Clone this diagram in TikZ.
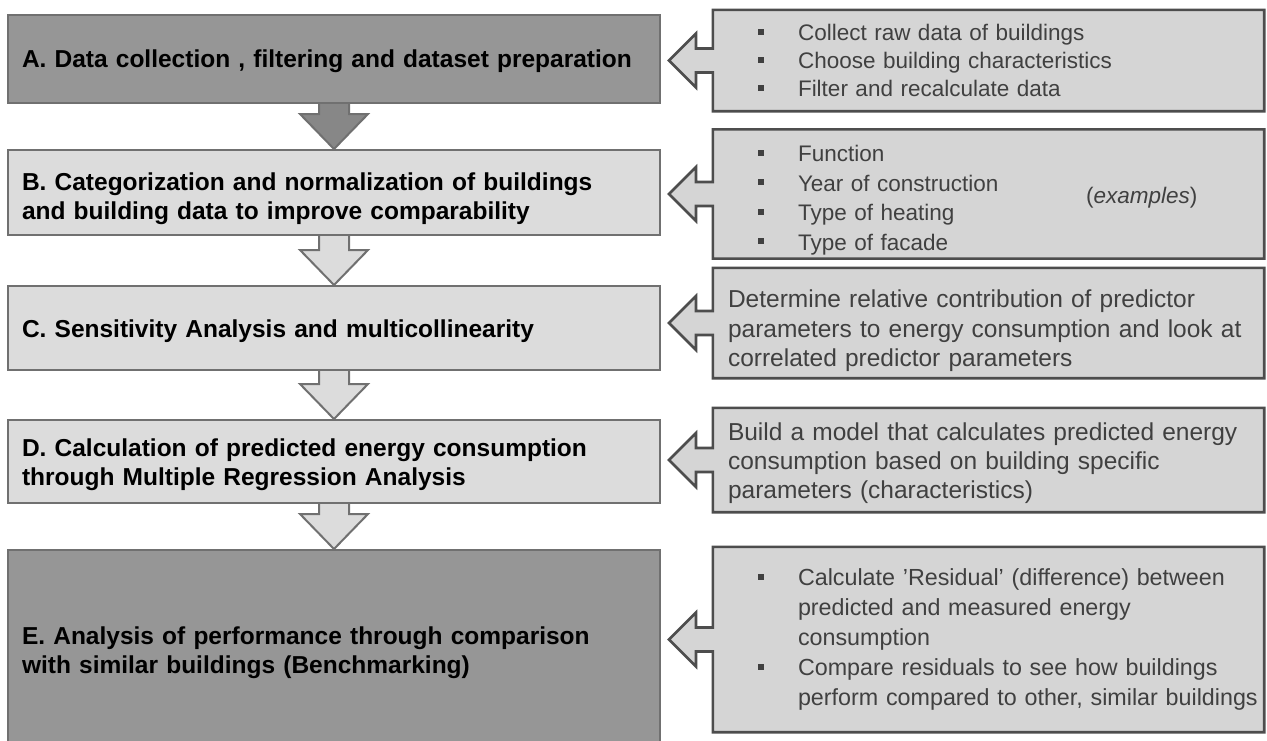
\documentclass[tikz,border=0pt]{standalone}
\usepackage{fontspec}
\setmainfont{Liberation Sans}
\usetikzlibrary{calc}
\pgfdeclarelayer{back}
\pgfsetlayers{back,main}

\definecolor{darkstage}{HTML}{969696}
\definecolor{lightstage}{HTML}{DCDCDC}
\definecolor{stageline}{HTML}{707070}
\definecolor{notefill}{HTML}{D5D5D5}
\definecolor{noteline}{HTML}{4D4D4D}
\definecolor{notetext}{HTML}{404040}

\tikzset{
  stage/.style={draw=stageline, line width=2pt, minimum width=652pt,
    inner xsep=14pt, text width=624pt, align=left, text=black,
    font=\fontsize{24.5}{29}\selectfont\bfseries},
  note/.style={minimum width=551pt, align=left, text=notetext},
  listnote/.style={inner xsep=0pt, text width=551pt},
  plainnote/.style={inner xsep=15pt, text width=521pt},
  notetxt/.style={text=notetext, inner sep=0pt},
  noteedge/.style={draw=noteline, fill=notefill, line width=2.6pt, line join=miter},
  darkarrow/.style={draw=stageline, fill=darkstage!90!black, line width=2pt},
  lightarrow/.style={draw=stageline, fill=lightstage, line width=2pt}
}

% bullet of the right hand lists
\newcommand{\notebullet}{\hspace*{45pt}\makebox[40pt][l]{\raisebox{6pt}{\rule{6pt}{6pt}}}}
\newcommand{\notecont}{\hspace*{85pt}}
% taller first line, pushes a text block down
\newcommand{\topstrut}[1]{\rule{0pt}{#1pt}}

% block arrow from one stage down to the next
\newcommand{\stepdown}[3][lightarrow]{%
  \draw[#1] ($(#2.south)+(-15,0)$) -- ($(#3.north)+(-15,-35)$)
    -- ($(#3.north)+(-34,-35)$) -- (#3.north) -- ($(#3.north)+(34,-35)$)
    -- ($(#3.north)+(15,-35)$) -- ($(#2.south)+(15,0)$);
}

% outline of a note with its arrow pointing at a stage
\newcommand{\callout}[2]{%
  \begin{pgfonlayer}{back}
  \draw[noteedge] (#1.north west) -- (#1.north east) -- (#1.south east)
    -- (#1.south west) -- ($(#1.west)+(0,12)$)
    -- ($(#1.west -| #2.east)+(35,12)$) -- ($(#1.west -| #2.east)+(35,27)$)
    -- ($(#1.west -| #2.east)+(8,0)$)
    -- ($(#1.west -| #2.east)+(35,-27)$) -- ($(#1.west -| #2.east)+(35,-12)$)
    -- ($(#1.west)+(0,-12)$) -- cycle;
  \end{pgfonlayer}
}

\begin{document}
\begin{tikzpicture}[x=1pt,y=-1pt]
    \clip (0,0) rectangle (1267,740);

    % Stages on the left
    \node[stage, fill=darkstage, minimum height=88pt] (a) at (334,59)
        {\topstrut{23}A. Data collection , filtering and dataset preparation};
    \node[stage, fill=lightstage, minimum height=85pt] (b) at (334,192.5)
        {\topstrut{30}B. Categorization and normalization of buildings\\and building data to improve comparability};
    \node[stage, fill=lightstage, minimum height=84pt] (c) at (334,328)
        {\topstrut{24}C. Sensitivity Analysis and multicollinearity};
    \node[stage, fill=lightstage, minimum height=83pt] (d) at (334,461.5)
        {\topstrut{24}D. Calculation of predicted energy consumption\\through Multiple Regression Analysis};
    \node[stage, fill=darkstage, minimum height=195pt] (e) at (334,647.5)
        {\topstrut{28}E. Analysis of performance through comparison\\with similar buildings (Benchmarking)};

    % Arrows between the stages
    \stepdown[darkarrow]{a}{b}
    \stepdown{b}{c}
    \stepdown{c}{d}
    \stepdown{d}{e}

    % Notes on the right
    \node[note, listnote, minimum height=101pt, font=\fontsize{22.5}{28}\selectfont] (na) at (988.5,60.5)
        {\notebullet Collect raw data of buildings\\
         \notebullet Choose building characteristics\\
         \notebullet Filter and recalculate data};
    \node[note, listnote, minimum height=128pt, font=\fontsize{22.5}{29.5}\selectfont] (nb) at (988.5,194)
        {\topstrut{29}\notebullet Function\\
         \notebullet Year of construction\\
         \notebullet Type of heating\\
         \notebullet Type of facade};
    \node[notetxt, anchor=west, font=\fontsize{22.5}{28}\selectfont] (ex) at (1086,198)
        {(\textit{examples})};
    \node[note, plainnote, minimum height=110pt, font=\fontsize{24.5}{29.5}\selectfont] (nc) at (988.5,323)
        {\topstrut{34}Determine relative contribution of predictor\\
         parameters to energy consumption and look at\\
         correlated predictor parameters};
    \node[note, plainnote, minimum height=104pt, font=\fontsize{24.5}{29}\selectfont] (nd) at (988.5,460)
        {\topstrut{25}Build a model that calculates predicted energy\\
         consumption based on building specific\\
         parameters (characteristics)};
    \node[note, listnote, minimum height=185pt, font=\fontsize{23.3}{30}\selectfont] (ne) at (988.5,639.5)
        {\notebullet Calculate 'Residual' (difference) between\\
         \notecont predicted and measured energy\\
         \notecont consumption\\
         \notebullet Compare residuals to see how buildings\\
         \notecont perform compared to other, similar buildings};

    % Note arrows
    \callout{na}{a}
    \callout{nb}{b}
    \callout{nc}{c}
    \callout{nd}{d}
    \callout{ne}{e}
\end{tikzpicture}
\end{document}
